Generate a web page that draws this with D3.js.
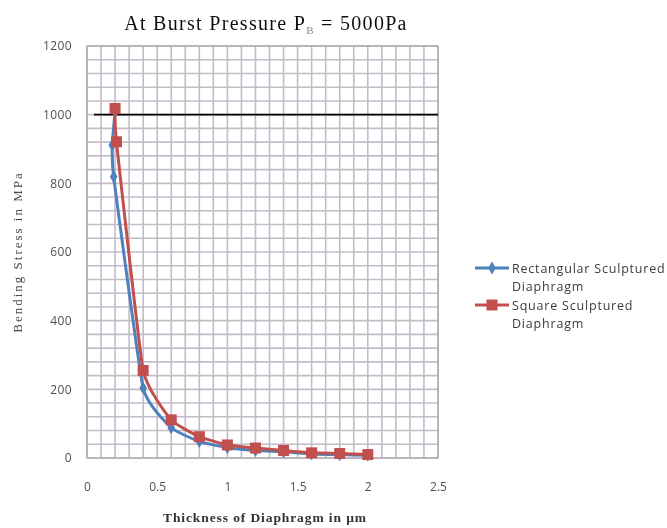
<!DOCTYPE html>
<html>
<head>
<meta charset="utf-8">
<script src="https://cdn.jsdelivr.net/npm/d3@7"></script>
<style>
  html, body { margin: 0; padding: 0; background: #fff; }
  svg { display: block; }
</style>
</head>
<body>
<script>
// Thickness of diaphragm (µm) and bending stress (MPa) for the two designs
const rectThickness   = [0.2, 0.18, 0.19, 0.4, 0.6, 0.8, 1.0, 1.2, 1.4, 1.6, 1.8, 2.0];
const rectStress      = [1008, 912, 819, 204, 88, 48, 30, 22, 18, 12, 10, 8];
const squareThickness = [0.2, 0.21, 0.4, 0.6, 0.8, 1.0, 1.2, 1.4, 1.6, 1.8, 2.0];
const squareStress    = [1018, 921, 255, 111, 62, 38, 29, 22, 15, 13, 10];

// Burst-stress limit line
const limitStress = 1000;
const limitFrom = 0.05, limitTo = 2.5;

const xTicks = [0, 0.5, 1, 1.5, 2, 2.5];
const xTickLabels = ["0", "0.5", "1", "1.5", "2", "2.5"];
const yTicks = [0, 200, 400, 600, 800, 1000, 1200];

const seriesNames = ["Rectangular Sculptured\nDiaphragm", "Square Sculptured\nDiaphragm"];
const seriesColors = ["#4f81bd", "#c0504d"];

const W = 667, H = 528;
const plot = { left: 87, right: 438, top: 46, bottom: 458 };

const svg = d3.select("body").append("svg").attr("width", W).attr("height", H);
svg.append("defs").append("filter").attr("id", "soft")
  .append("feGaussianBlur").attr("stdDeviation", 0.55);
const root = svg.append("g").attr("filter", "url(#soft)");
root.append("rect").attr("width", W).attr("height", H).attr("fill", "#fff");

const x = d3.scaleLinear().domain([0, 2.5]).range([plot.left, plot.right]);
const y = d3.scaleLinear().domain([0, 1200]).range([plot.bottom, plot.top]);

// Fine grid: every 0.1 µm and every 40 MPa
const g = root.append("g");
g.selectAll("line.vg").data(d3.range(0, 26)).join("line")
  .attr("x1", d => x(d / 10)).attr("x2", d => x(d / 10))
  .attr("y1", plot.top).attr("y2", plot.bottom)
  .attr("stroke", "#c3bcc8").attr("stroke-width", 1.6);
g.selectAll("line.hg").data(d3.range(0, 31)).join("line")
  .attr("y1", d => y(d * 40)).attr("y2", d => y(d * 40))
  .attr("x1", plot.left).attr("x2", plot.right)
  .attr("stroke", "#c3bcc8").attr("stroke-width", 1.6);
g.append("rect").attr("x", plot.left).attr("y", plot.top)
  .attr("width", plot.right - plot.left).attr("height", plot.bottom - plot.top)
  .attr("fill", "none").attr("stroke", "#a9a3ad").attr("stroke-width", 1.2);

// Axes (labels only, no tick marks)
const xAxis = d3.axisBottom(x).tickValues(xTicks)
  .tickFormat((d, i) => xTickLabels[i]).tickSize(0).tickPadding(24);
root.append("g").attr("transform", `translate(0,${plot.bottom})`).call(xAxis)
  .call(a => a.select(".domain").remove())
  .selectAll("text").attr("font-family", "Open Sans, sans-serif")
  .attr("font-size", 12).attr("fill", "#505050");

const yAxis = d3.axisLeft(y).tickValues(yTicks).tickFormat(d3.format("d"))
  .tickSize(0).tickPadding(15);
root.append("g").attr("transform", `translate(${plot.left},0)`).call(yAxis)
  .call(a => a.select(".domain").remove())
  .selectAll("text").attr("font-family", "Open Sans, sans-serif")
  .attr("font-size", 12).attr("letter-spacing", 0.4).attr("fill", "#505050");

// Limit line at 1000 MPa
root.append("line")
  .attr("x1", x(limitFrom)).attr("x2", x(limitTo))
  .attr("y1", y(limitStress)).attr("y2", y(limitStress))
  .attr("stroke", "#000").attr("stroke-width", 1.8);

const line = d3.line().x(d => x(d[0])).y(d => y(d[1])).curve(d3.curveCardinal.tension(0.6));
const rectPts = rectThickness.map((t, i) => [t, rectStress[i]]);
const squarePts = squareThickness.map((t, i) => [t, squareStress[i]]);

const diamond = d3.symbol().type(d3.symbolDiamond).size(50);

root.append("path").datum(rectPts).attr("d", line)
  .attr("fill", "none").attr("stroke", seriesColors[0]).attr("stroke-width", 3);
root.selectAll("path.rm").data(rectPts).join("path")
  .attr("d", diamond)
  .attr("transform", d => `translate(${x(d[0])},${y(d[1])})`)
  .attr("fill", seriesColors[0]);

root.append("path").datum(squarePts).attr("d", line)
  .attr("fill", "none").attr("stroke", seriesColors[1]).attr("stroke-width", 3);
root.selectAll("rect.sm").data(squarePts).join("rect")
  .attr("x", d => x(d[0]) - 5.5).attr("y", d => y(d[1]) - 5.5)
  .attr("width", 11).attr("height", 11)
  .attr("fill", seriesColors[1]);

// Legend
const legend = root.append("g");
const legendY = [268, 305];
seriesNames.forEach((name, i) => {
  const ly = legendY[i];
  legend.append("line").attr("x1", 475).attr("x2", 509).attr("y1", ly).attr("y2", ly)
    .attr("stroke", seriesColors[i]).attr("stroke-width", 3);
  if (i === 0) {
    legend.append("path").attr("d", diamond).attr("transform", `translate(492,${ly})`)
      .attr("fill", seriesColors[i]);
  } else {
    legend.append("rect").attr("x", 486.5).attr("y", ly - 5.5).attr("width", 11).attr("height", 11)
      .attr("fill", seriesColors[i]);
  }
  const t = legend.append("text").attr("x", 512).attr("y", ly + 4.5)
    .attr("font-family", "Open Sans, sans-serif").attr("font-size", 12.5)
    .attr("letter-spacing", 0.8).attr("fill", "#3c3c3c");
  name.split("\n").forEach((s, k) => {
    t.append("tspan").attr("x", 512).attr("dy", k === 0 ? 0 : 18).text(s);
  });
});

// Title with subscript
const title = root.append("text").attr("x", 266).attr("y", 30)
  .attr("text-anchor", "middle")
  .attr("font-family", "Liberation Serif, serif").attr("font-size", 20)
  .attr("letter-spacing", 1.3).attr("fill", "#111");
title.append("tspan").text("At Burst Pressure P");
title.append("tspan").attr("font-size", 11).attr("dy", 4).attr("fill", "#888").text("B");
title.append("tspan").attr("dy", -4).text(" = 5000Pa");

// Axis titles
root.append("text").attr("x", 265).attr("y", 522).attr("text-anchor", "middle")
  .attr("font-family", "Liberation Serif, serif").attr("font-size", 13.5)
  .attr("letter-spacing", 0.9).attr("font-weight", "bold").attr("fill", "#333")
  .text("Thickness of Diaphragm in µm");
root.append("text")
  .attr("transform", "translate(22,252) rotate(-90)")
  .attr("text-anchor", "middle")
  .attr("font-family", "Liberation Serif, serif").attr("font-size", 13)
  .attr("letter-spacing", 2).attr("fill", "#4a4a4a")
  .text("Bending Stress in MPa");
</script>
</body>
</html>
